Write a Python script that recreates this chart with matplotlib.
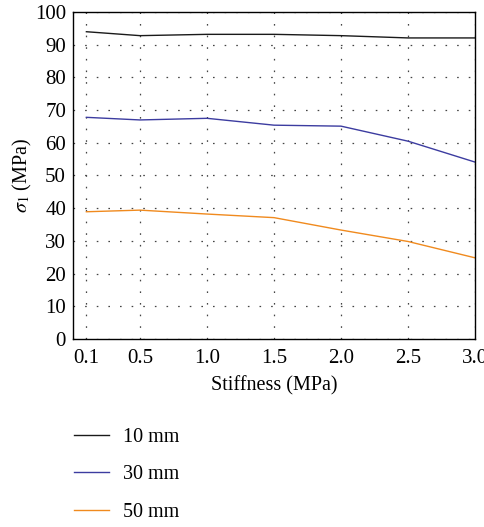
import matplotlib
matplotlib.use("Agg")
from matplotlib import pyplot as plt

# data
stiffness = [0.1, 0.5, 1.0, 1.5, 2.0, 2.5, 3.0]
sigma_10mm = [94.0, 92.8, 93.2, 93.2, 92.8, 92.1, 92.1]
sigma_30mm = [67.8, 67.0, 67.5, 65.4, 65.1, 60.5, 54.1]
sigma_50mm = [38.9, 39.4, 38.2, 37.1, 33.3, 29.8, 24.8]
series_labels = ["10 mm", "30 mm", "50 mm"]
x_ticks = [0.1, 0.5, 1.0, 1.5, 2.0, 2.5, 3.0]
y_ticks = list(range(0, 101, 10))

plt.rcParams['font.family'] = ['Liberation Serif', 'DejaVu Serif']
plt.rcParams['mathtext.fontset'] = 'stix'

fig = plt.figure(figsize=(4.85, 5.27), dpi=100)
ax = fig.add_axes([0.1505, 0.357, 0.829, 0.62])

colors = ['#1a1a1a', '#3c3ca0', '#f08a1e']
for vals, lab, col in zip([sigma_10mm, sigma_30mm, sigma_50mm], series_labels, colors):
    ax.plot(stiffness, vals, color=col, lw=1.0, label=lab)

ax.set_xlim(0, 3.0)
ax.set_ylim(0, 100)
ax.set_xticks(x_ticks)
ax.set_xticklabels([f"{v:.1f}" for v in x_ticks])
ax.set_yticks(y_ticks)
ax.tick_params(length=0, labelsize=15, pad=5)
ax.tick_params(axis='x', pad=7)
ax.grid(True, color='#444444', lw=0.9, linestyle=(0, (1.3, 8)))
for s in ax.spines.values():
    s.set_linewidth(1.0)

ax.set_xlabel("Stiffness (MPa)", fontsize=14.5, labelpad=6)
ax.set_ylabel(r"$\sigma_1$ (MPa)", fontsize=14.5, labelpad=1)

fig.legend(loc='upper left', bbox_to_anchor=(0.115, 0.222), frameon=False,
           fontsize=14.5, handlelength=1.75, handletextpad=0.7, labelspacing=0.9)

fig.savefig("out.png", dpi=100)
